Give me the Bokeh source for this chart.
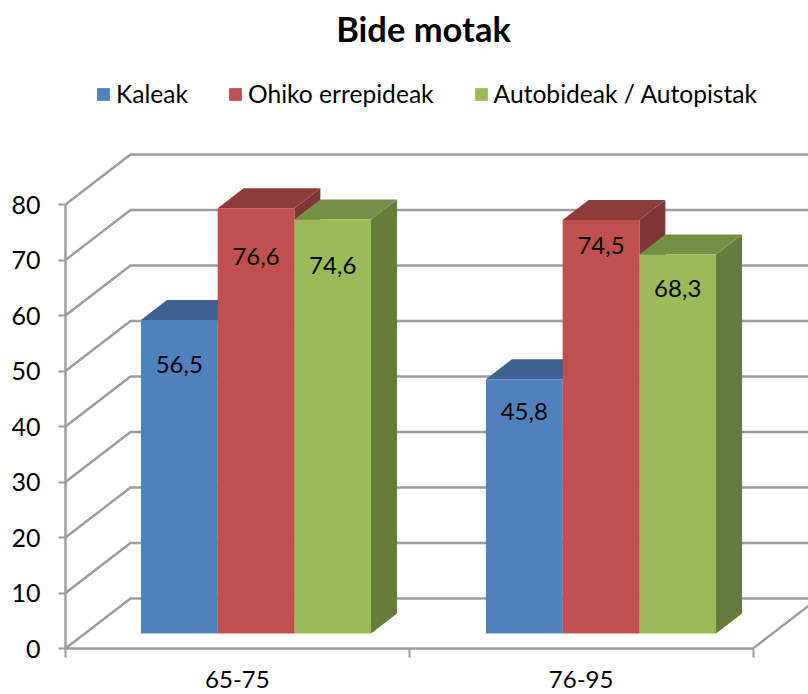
from bokeh.plotting import figure
from bokeh.models import FixedTicker, Legend, LegendItem, Range1d
from bokeh.embed import file_html
from bokeh.resources import INLINE
from bokeh.core.properties import value

TITLE = "Bide motak"
categories = ["65-75", "76-95"]
series_names = ["Kaleak", "Ohiko errepideak", "Autobideak / Autopistak"]
kaleak = [56.5, 45.8]
ohiko = [76.6, 74.5]
autobideak = [74.6, 68.3]
y_ticks = [0, 10, 20, 30, 40, 50, 60, 70, 80]
bar_labels = [["56,5", "45,8"], ["76,6", "74,5"], ["74,6", "68,3"]]

FONT = "Lato"
PX_X = 343.75        # pixels per category
PX_Y = 5.55          # pixels per value unit
FRAME_W, FRAME_H = 743, 648
px = lambda d: d / PX_X
py = lambda d: d / PX_Y

WALL_DX, WALL_DY = px(65), py(50)      # depth of the chart box
FLOOR_DY = py(15)                      # bar base above the front edge
BAR_DX, BAR_DY = px(26), py(20)        # depth of a bar
BAR_W = px(76.7)
GROUP_X = [px(190.5), px(535.5)]
LABEL_DROP = [[py(45), py(32)], [py(48), py(25)], [py(46), py(34)]]

front = ["#4f81bd", "#c0504d", "#9bbb59"]
top = ["#3e6290", "#8e3c3a", "#759046"]
side = ["#375a85", "#7f3533", "#657c3c"]
GRID = "#9c9c9c"

x_end, y_end = px(FRAME_W), py(FRAME_H)
p = figure(width=808, height=694, output_backend="svg", toolbar_location=None,
           x_range=Range1d(0, x_end), y_range=Range1d(0, y_end),
           min_border_left=65, min_border_right=0, min_border_bottom=46, min_border_top=0,
           background_fill_color="white", border_fill_color="white")
p.grid.visible = False
p.outline_line_color = None

# title, set inside the frame so that it can sit this high
p.text([px(358)], [py(620)], text=[TITLE], text_font=value(FONT), text_font_size="34.5px",
       text_font_style="bold", text_color="black", text_align="center", text_baseline="middle")

# walls
xs, ys = [], []
for t in y_ticks:
    xs.append([0, WALL_DX, x_end + 1])
    ys.append([t, t + WALL_DY, t + WALL_DY])
xs.append([2, 2 + WALL_DX])
ys.append([0, WALL_DY])
p.multi_line(xs, ys, line_color=GRID, line_width=2.4)

# bars
series = [kaleak, ohiko, autobideak]
items = []
for g in range(len(categories)):
    for s, vals in enumerate(series):
        v = vals[g]
        x0 = GROUP_X[g] + (s - 1.5) * BAR_W
        x1 = x0 + BAR_W
        b = FLOOR_DY
        p.patch([x1, x1 + BAR_DX, x1 + BAR_DX, x1], [b, b + BAR_DY, b + v + BAR_DY, b + v],
                fill_color=side[s], line_color=None)
        p.patch([x0, x0 + BAR_DX, x1 + BAR_DX, x1], [b + v, b + v + BAR_DY, b + v + BAR_DY, b + v],
                fill_color=top[s], line_color=None)
        r = p.quad(left=x0, right=x1, bottom=b, top=b + v, fill_color=front[s], line_color=None)
        if g == 0:
            items.append(LegendItem(label=series_names[s], renderers=[r]))

# data labels
for s, vals in enumerate(series):
    for g, v in enumerate(vals):
        p.text([GROUP_X[g] + (s - 1) * BAR_W], [FLOOR_DY + v - LABEL_DROP[s][g]],
               text=[bar_labels[s][g]], text_font=value(FONT), text_font_size="24px",
               text_color="black", text_align="center", text_baseline="middle")

legend = Legend(items=items, orientation="horizontal", location=(30, 540), padding=0, margin=0,
                spacing=39, glyph_width=16, glyph_height=16, label_standoff=5,
                label_text_font=FONT, label_text_font_size="24.6px", label_text_color="black",
                border_line_color=None, background_fill_alpha=0)
p.add_layout(legend)

# axes
ya = p.yaxis[0]
ya.ticker = FixedTicker(ticks=y_ticks)
ya.bounds = (0, 80)
ya.axis_line_color = GRID
ya.axis_line_width = 2.4
ya.major_tick_line_color = GRID
ya.major_tick_line_width = 2
ya.major_tick_in = 0
ya.major_tick_out = 7
ya.minor_tick_line_color = None
ya.major_label_text_font = FONT
ya.major_label_text_font_size = "25px"
ya.major_label_text_color = "black"
ya.major_label_standoff = 18

xa = p.xaxis[0]
xa.ticker = FixedTicker(ticks=[0.5, 1.5], minor_ticks=[0, 1, 2])
xa.major_label_overrides = {0.5: categories[0], 1.5: categories[1]}
xa.bounds = (0, 2)
xa.axis_line_color = GRID
xa.axis_line_width = 2.4
xa.major_tick_line_color = None
xa.minor_tick_line_color = GRID
xa.minor_tick_line_width = 2
xa.minor_tick_in = 0
xa.minor_tick_out = 9
xa.major_label_text_font = FONT
xa.major_label_text_font_size = "24px"
xa.major_label_text_color = "black"
xa.major_label_standoff = 13

open("out.html", "w").write(file_html(p, INLINE))
